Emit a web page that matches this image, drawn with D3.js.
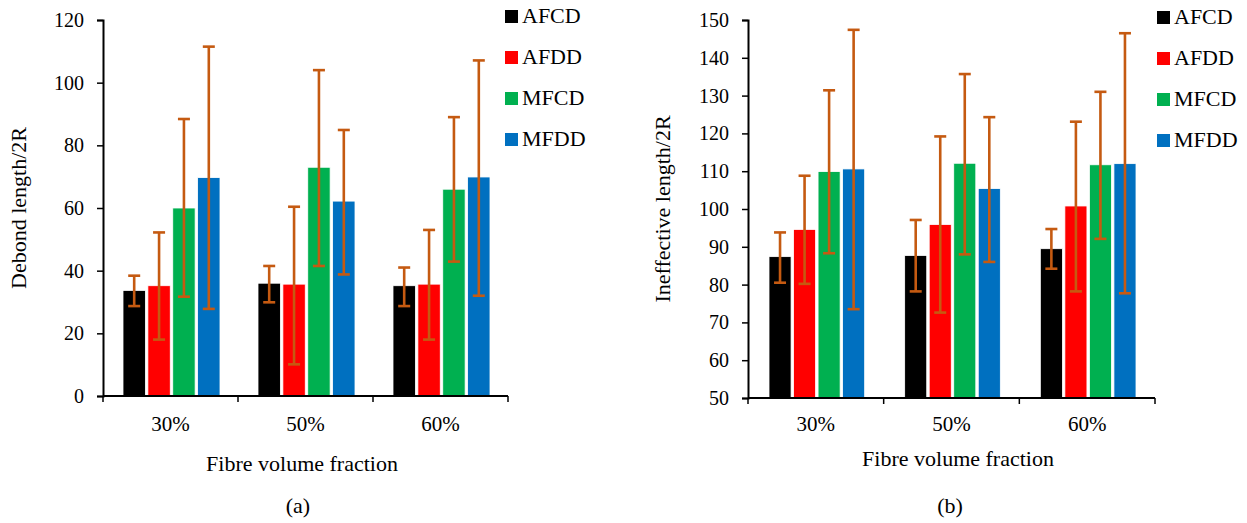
<!DOCTYPE html>
<html>
<head>
<meta charset="utf-8">
<script src="https://cdn.jsdelivr.net/npm/d3@7"></script>
</head>
<body style="margin:0;background:#fff">
<svg id="chart" width="1247" height="523" font-family="Liberation Serif"></svg>
<script>
// categories and series
var categories = ["30%", "50%", "60%"];
var series = ["AFCD", "AFDD", "MFCD", "MFDD"];
var colors = ["#000000", "#FF0000", "#00B050", "#0070C0"];

// (a) debond length / 2R  -- rows follow categories, columns follow series
var debondMean = [[33.7, 35.2, 60.0, 69.7], [36.0, 35.7, 73.0, 62.2], [35.2, 35.7, 66.0, 69.9]];
var debondHigh = [[38.4, 52.2, 88.4, 111.5], [41.5, 60.4, 104.0, 84.9], [41.0, 53.0, 89.0, 107.1]];
var debondLow  = [[28.7, 18.0, 31.7, 27.8], [29.9, 10.1, 41.5, 38.8], [28.7, 18.0, 42.9, 32.0]];
var debondTicks = [0, 20, 40, 60, 80, 100, 120];

// (b) ineffective length / 2R
var ineffMean = [[87.4, 94.6, 109.9, 110.6], [87.7, 95.9, 112.1, 105.4], [89.5, 100.8, 111.7, 112.0]];
var ineffHigh = [[93.8, 108.8, 131.4, 147.4], [97.1, 119.2, 135.7, 124.3], [94.7, 123.1, 131.0, 146.5]];
var ineffLow  = [[80.5, 80.2, 88.3, 73.5], [78.2, 72.6, 88.0, 86.0], [84.2, 78.2, 92.1, 77.7]];
var ineffTicks = [50, 60, 70, 80, 90, 100, 110, 120, 130, 140, 150];

var svg = d3.select("#chart");
var FONT = "Liberation Serif";

function drawPanel(opt) {
	var g = svg.append("g");

	var x0 = d3.scaleBand().domain(categories).range([opt.left, opt.right]);
	var x1 = d3.scaleBand().domain(series).range([opt.groupPad, x0.bandwidth() - opt.groupPad + 2]).paddingInner(0.1);
	var y = d3.scaleLinear().domain(opt.domain).range([opt.bottom, opt.top]);

	// bars
	categories.forEach(function(cat, i) {
		var grp = g.append("g").attr("transform", "translate(" + x0(cat) + ",0)");
		grp.selectAll("rect")
			.data(series)
			.enter()
			.append("rect")
			.attr("x", function(s) { return x1(s); })
			.attr("width", x1.bandwidth())
			.attr("y", function(s, j) { return y(opt.mean[i][j]); })
			.attr("height", function(s, j) { return y(opt.domain[0]) - y(opt.mean[i][j]); })
			.attr("fill", function(s, j) { return colors[j]; })
			.attr("stroke", "#fff")
			.attr("stroke-width", 0.8);

		// error bars
		var err = grp.selectAll("g.err")
			.data(series)
			.enter()
			.append("g")
			.attr("class", "err")
			.attr("stroke", "#C55A11")
			.attr("stroke-width", 2.6);
		err.append("line")
			.attr("x1", function(s) { return x1(s) + x1.bandwidth() / 2; })
			.attr("x2", function(s) { return x1(s) + x1.bandwidth() / 2; })
			.attr("y1", function(s, j) { return y(opt.high[i][j]); })
			.attr("y2", function(s, j) { return y(opt.low[i][j]); });
		[opt.high, opt.low].forEach(function(arr) {
			err.append("line")
				.attr("x1", function(s) { return x1(s) + x1.bandwidth() / 2 - 6; })
				.attr("x2", function(s) { return x1(s) + x1.bandwidth() / 2 + 6; })
				.attr("y1", function(s, j) { return y(arr[i][j]); })
				.attr("y2", function(s, j) { return y(arr[i][j]); });
		});
	});

	// y axis
	var yAxis = g.append("g")
		.attr("transform", "translate(" + opt.left + ",0)")
		.call(d3.axisLeft(y).tickValues(opt.ticks).tickSize(6).tickPadding(13).tickFormat(d3.format("d")));
	yAxis.attr("font-family", FONT).attr("font-size", 20);
	yAxis.select(".domain").attr("stroke", "#000").attr("stroke-width", 2);
	yAxis.selectAll(".tick line").attr("stroke", "#000").attr("stroke-width", 1.5);
	yAxis.selectAll("text").attr("fill", "#000");

	// x axis with ticks on category boundaries
	var xg = g.append("g");
	xg.append("line")
		.attr("x1", opt.left).attr("x2", opt.right)
		.attr("y1", opt.bottom).attr("y2", opt.bottom)
		.attr("stroke", "#000").attr("stroke-width", 2);
	var bounds = categories.map(function(c) { return x0(c); }).concat([opt.right]);
	xg.selectAll("line.tk")
		.data(bounds)
		.enter()
		.append("line")
		.attr("class", "tk")
		.attr("x1", function(d) { return d; })
		.attr("x2", function(d) { return d; })
		.attr("y1", opt.bottom)
		.attr("y2", opt.bottom + 6)
		.attr("stroke", "#000").attr("stroke-width", 1.5);
	xg.selectAll("text")
		.data(categories)
		.enter()
		.append("text")
		.attr("x", function(c) { return x0(c) + x0.bandwidth() / 2; })
		.attr("y", 431)
		.attr("text-anchor", "middle")
		.attr("font-family", FONT)
		.attr("font-size", 21)
		.text(function(c) { return c; });

	// axis titles
	g.append("text")
		.attr("transform", "translate(" + opt.yTitleX + "," + opt.yTitleY + ") rotate(-90)")
		.attr("text-anchor", "middle")
		.attr("font-family", FONT)
		.attr("font-size", 22)
		.text(opt.yTitle);
	g.append("text")
		.attr("x", opt.xTitleX)
		.attr("y", opt.xTitleY)
		.attr("text-anchor", "middle")
		.attr("font-family", FONT)
		.attr("font-size", 22)
		.text("Fibre volume fraction");
	g.append("text")
		.attr("x", opt.labelX)
		.attr("y", 513)
		.attr("text-anchor", "middle")
		.attr("font-family", FONT)
		.attr("font-size", 22)
		.text(opt.label);

	// legend
	var leg = g.selectAll("g.leg")
		.data(series)
		.enter()
		.append("g")
		.attr("class", "leg")
		.attr("transform", function(s, j) { return "translate(" + opt.legendX + "," + (opt.legendY + j * 41) + ")"; });
	leg.append("rect")
		.attr("x", 0).attr("y", -6.5)
		.attr("width", 13).attr("height", 13)
		.attr("fill", function(s, j) { return colors[j]; });
	leg.append("text")
		.attr("x", 17)
		.attr("y", 6.5)
		.attr("font-family", FONT)
		.attr("font-size", 22)
		.text(function(s) { return s; });
}

drawPanel({
	left: 103, right: 508, top: 20, bottom: 396,
	groupPad: 20, domain: [0, 120], ticks: debondTicks,
	mean: debondMean, high: debondHigh, low: debondLow,
	yTitle: "Debond length/2R", yTitleX: 26, yTitleY: 208,
	xTitleX: 302, xTitleY: 471, label: "(a)", labelX: 298, legendX: 505, legendY: 16.5
});

drawPanel({
	left: 748, right: 1155, top: 20, bottom: 398,
	groupPad: 21, domain: [50, 150], ticks: ineffTicks,
	mean: ineffMean, high: ineffHigh, low: ineffLow,
	yTitle: "Ineffective length/2R", yTitleX: 670, yTitleY: 209,
	xTitleX: 958, xTitleY: 466, label: "(b)", labelX: 950, legendX: 1157, legendY: 17.5
});
</script>
</body>
</html>
